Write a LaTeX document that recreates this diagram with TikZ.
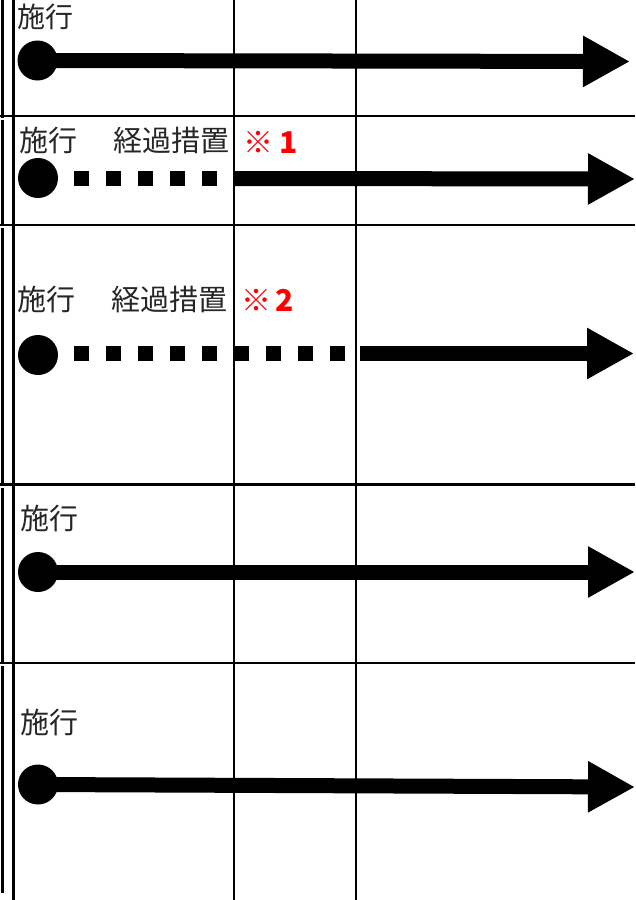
\documentclass[tikz,border=0pt]{standalone}
\usepackage{fontspec}
\setmainfont{Noto Sans CJK JP}
\usetikzlibrary{arrows.meta}
\definecolor{notered}{RGB}{255,0,0}
\begin{document}
\begin{tikzpicture}[x=1pt,y=-1pt,
  gridline/.style={line width=2.2pt,black},
  edgeline/.style={line width=3pt,black},
  startdot/.style={circle,fill=black,draw=none,minimum size=40pt,inner sep=0pt},
  bigarrow/.style={line width=15pt,black,-{Triangle[length=47pt,width=48pt]}},
  dashpart/.style={line width=15pt,black,dash pattern=on 15pt off 17pt},
  lbl/.style={anchor=west,inner sep=0pt,font=\fontsize{29}{31}\selectfont,text=black!85},
  note/.style={anchor=west,inner sep=0pt,font=\fontsize{30}{32}\selectfont\bfseries,text=notered}]
\useasboundingbox (0,0) rectangle (635,900);
\fill[white] (0,0) rectangle (635,900);
% grid
\foreach \yy in {116,225,484.5,663}{\draw[gridline] (0,\yy) -- (635,\yy);}
\draw[gridline] (233.7,0) -- (233.7,900);
\draw[gridline] (355.8,0) -- (355.8,900);
\draw[gridline] (13.5,0) -- (13.5,900);
\draw[edgeline] (2.2,0) -- (2.2,118);
\draw[edgeline] (2.2,120) -- (2.2,226);
\draw[edgeline] (2.2,228) -- (2.2,486);
\draw[edgeline] (2.2,488) -- (2.2,664);
\draw[edgeline] (2.2,666) -- (2.2,893);
% row 1
\node[lbl,font=\fontsize{28}{30}\selectfont] (t1) at (17.5,17) {施行};
\node[startdot] (c1) at (37.5,60.5) {};
\coordinate (e1) at (630,61.5);
\draw[bigarrow] (c1.center) -- (e1);
% row 2
\node[lbl] (t2) at (19,141) {施行};
\node[lbl] (k2) at (113.5,141) {経過措置};
\node[note] (n2) at (243,142) {※\kern6pt 1};
\node[startdot] (c2) at (38,178) {};
\coordinate (d2s) at (74,178.5);
\coordinate (d2e) at (217,178.5);
\coordinate (s2) at (235,178.5);
\coordinate (e2) at (635,179);
\draw[dashpart] (d2s) -- (d2e);
\draw[bigarrow] (s2) -- (e2);
% row 3
\node[lbl] (t3) at (17,300) {施行};
\node[lbl] (k3) at (111.5,300) {経過措置};
\node[note] (n3) at (241,300) {※\kern4pt 2};
\node[startdot] (c3) at (38,355) {};
\coordinate (d3s) at (74,353);
\coordinate (d3e) at (345,353);
\coordinate (s3) at (360,353.5);
\coordinate (e3) at (634,353.5);
\draw[dashpart] (d3s) -- (d3e);
\draw[bigarrow] (s3) -- (e3);
% row 4
\node[lbl] (t4) at (20,519) {施行};
\node[startdot] (c4) at (38,572) {};
\coordinate (e4) at (635,572);
\draw[bigarrow] (c4.center) -- (e4);
% row 5
\node[lbl] (t5) at (20,722) {施行};
\node[startdot] (c5) at (38,784.5) {};
\coordinate (e5) at (635,787);
\draw[bigarrow] (c5.center) -- (e5);
\end{tikzpicture}
\end{document}
